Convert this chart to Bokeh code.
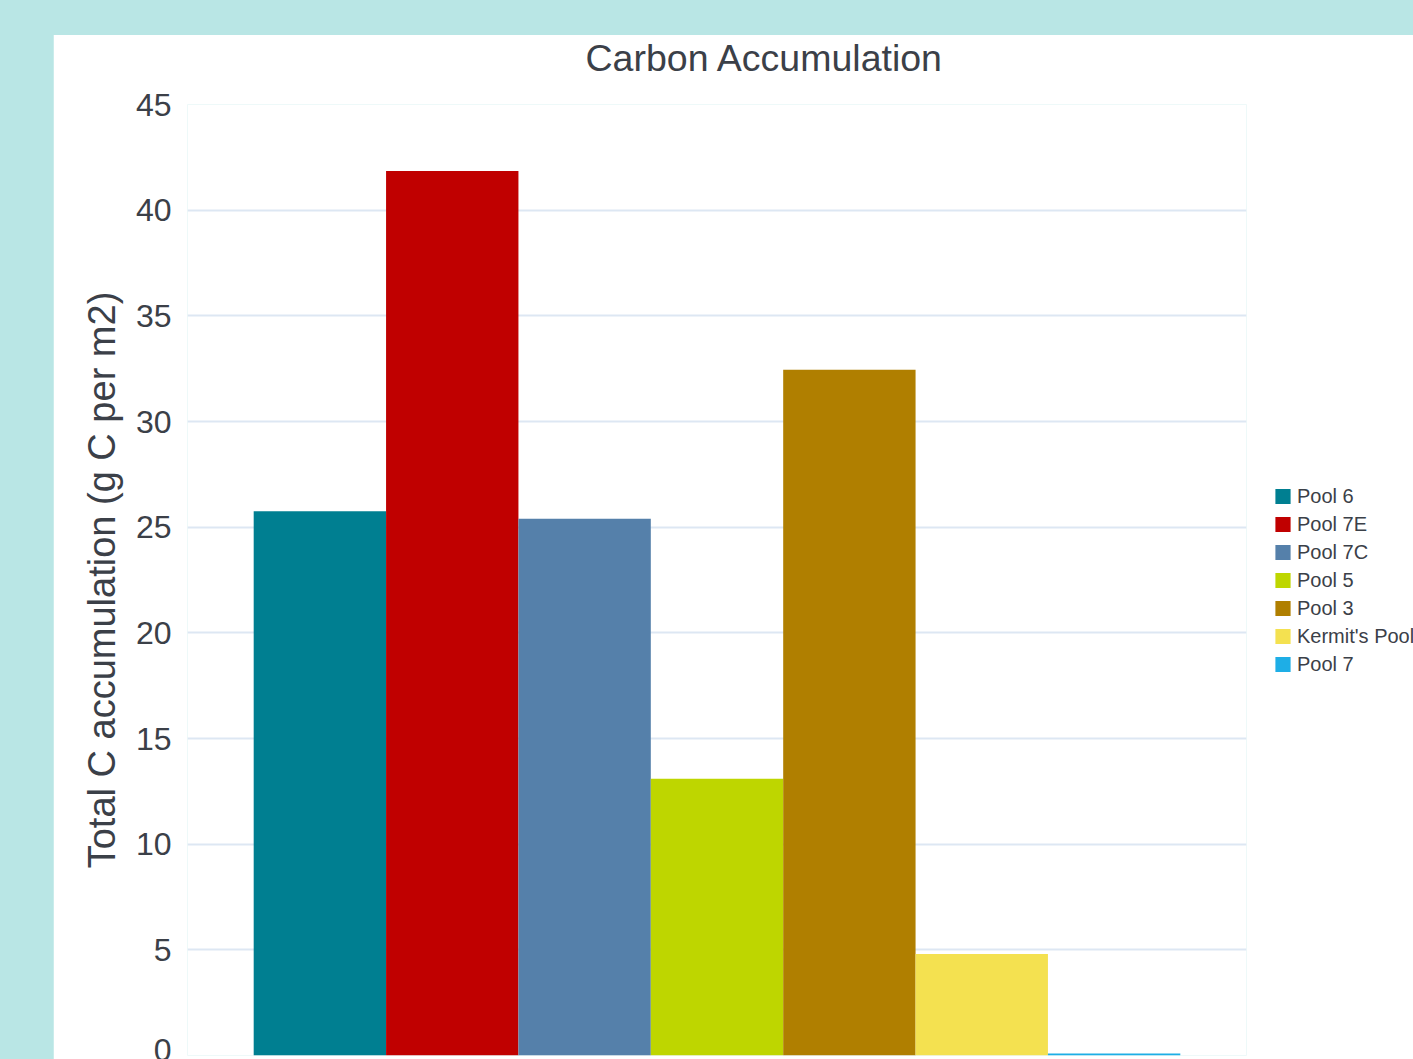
from bokeh.plotting import figure
from bokeh.models import ColumnDataSource, FactorRange, Range1d, Legend, LegendItem, SingleIntervalTicker
from bokeh.layouts import column
from bokeh.embed import file_html
from bokeh.resources import INLINE

categories = ["Pool 6", "Pool 7E", "Pool 7C", "Pool 5", "Pool 3", "Kermit's Pool", "Pool 7"]
values = [25.75, 41.85, 25.4, 13.1, 32.45, 4.8, 0.1]
colors = ["#007f91", "#c00000", "#5580aa", "#bed600", "#b07f00", "#f4e150", "#1eaee6"]

FONT = "Liberation Sans"
TEXT = "#3b4048"

p = figure(
    frame_width=1059, frame_height=951,
    x_range=FactorRange(factors=categories, range_padding=0.5, range_padding_units="absolute"),
    y_range=Range1d(0, 45),
    output_backend="svg", toolbar_location=None,
    min_border_left=134, min_border_right=167, min_border_top=68, min_border_bottom=5,
    background_fill_color="white", border_fill_color="white",
    outline_line_color=None,
)
# canvas starts 27px above the white panel; that strip is clipped so the teal page shows
p.margin = (8, 0, 0, 53)
p.styles = {"clip-path": "inset(27px 0px 0px 0px)"}

p.title.text = "Carbon Accumulation"
p.title.text_font = FONT
p.title.text_font_size = "37.5px"
p.title.text_font_style = "normal"
p.title.text_color = TEXT
p.title.align = "left"
p.title.offset = 398
p.title.vertical_align = "bottom"
p.title.standoff = 52

src = ColumnDataSource(dict(cat=categories, val=values, color=colors))
bars = p.vbar(x="cat", top="val", width=1.0, source=src, fill_color="color", line_color=None)

p.xaxis.visible = False
p.xgrid.grid_line_color = None
p.ygrid.grid_line_color = "#dde7f3"
p.ygrid.grid_line_width = 2

ya = p.yaxis[0]
ya.ticker = SingleIntervalTicker(interval=5)
ya.axis_line_color = None
ya.major_tick_line_color = None
ya.minor_tick_line_color = None
ya.major_label_text_font = FONT
ya.major_label_text_font_size = "32px"
ya.major_label_text_color = TEXT
ya.major_label_standoff = 10
ya.axis_label = "Total C accumulation (g C per m2)"
ya.axis_label_text_font = FONT
ya.axis_label_text_font_size = "38px"
ya.axis_label_text_font_style = "normal"
ya.axis_label_text_color = TEXT
ya.axis_label_standoff = 10

items = [LegendItem(label=c, renderers=[bars], index=i) for i, c in enumerate(categories)]
legend = Legend(
    items=items, location="left",
    label_text_font=FONT, label_text_font_size="20px", label_text_color=TEXT,
    glyph_width=19, glyph_height=19, label_height=20, label_standoff=5,
    spacing=5, padding=0, margin=27,
    border_line_color=None, background_fill_alpha=0,
)
p.add_layout(legend, "right")

layout = column(p, styles={"background-color": "#b9e6e5"})

open("out.html", "w").write(file_html(layout, INLINE))
